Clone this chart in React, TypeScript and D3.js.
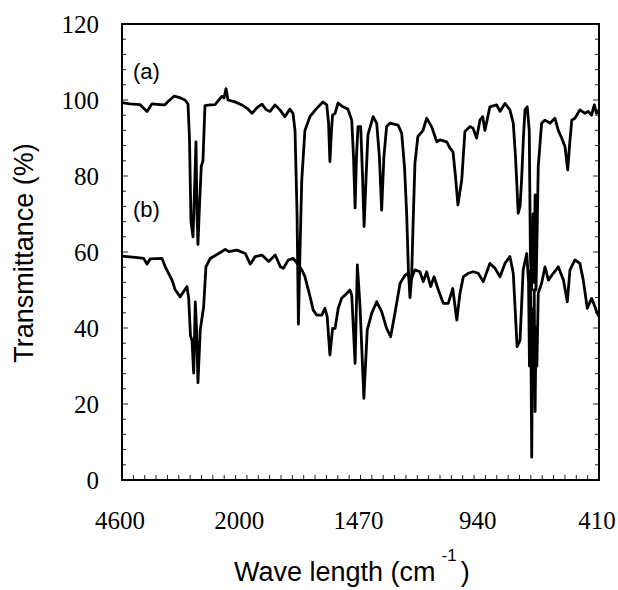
import React from 'react';
import * as d3 from 'd3';

// IR spectra (a) and (b), transmittance vs wave number

const waveA = [4600, 4430, 4210, 4055, 3946, 3772, 3663, 3597, 3466, 3336, 3227, 3161, 3129, 3096, 3052, 3009, 2987, 2965, 2944, 2911, 2872, 2835, 2791, 2681, 2572, 2419, 2376, 2332, 2289, 2136,
  1997, 1974, 1952, 1930, 1908, 1890, 1872, 1850, 1828, 1806, 1784, 1770, 1761, 1752, 1746, 1739, 1731, 1717, 1695, 1665, 1637, 1620, 1612, 1606, 1599, 1594, 1583, 1570, 1548, 1526,
  1509, 1501, 1494, 1488, 1481, 1469, 1461, 1454, 1445, 1437, 1414, 1398, 1386, 1376, 1366, 1354, 1339, 1303, 1287, 1274, 1265, 1257, 1250, 1243, 1235, 1228, 1215, 1192, 1176, 1154,
  1131, 1117, 1087, 1072, 1059, 1048, 1037, 1020, 1006, 983, 970, 954, 939, 927, 917, 895, 865, 850, 828, 806, 791, 781, 769, 761, 754, 746, 739, 729, 720, 715,
  710, 703, 699, 694, 690, 685, 680, 665, 650, 628, 606, 591, 576, 561, 549, 541, 531, 517, 495, 472, 458, 443, 431, 421, 410];
const transA = [99.3, 99, 98.8, 97, 99, 98.8, 98.7, 99.6, 101, 100.6, 100, 99, 90, 68, 64, 80, 89, 70, 62, 72, 82.5, 84, 98.5, 98.7, 98.8, 101, 100.5, 103, 100, 99.5,
  98.7, 97.8, 96.5, 98, 98.9, 97.5, 97, 98.7, 97.4, 95.6, 97.6, 96.5, 92, 70, 41, 60, 79, 92, 95.6, 97.8, 99.5, 98.7, 94, 83.8, 92, 96, 96.5, 99.2, 98.2, 97.6,
  94.7, 85, 71.6, 85, 93, 93, 80, 66.7, 80, 90.8, 95.6, 93.9, 85, 71, 85, 93, 93.9, 93.4, 91.3, 82, 70.3, 55, 48, 53, 70, 83.3, 90.4, 92, 95.2, 93,
  89, 89.5, 89, 87.3, 86.4, 80, 72.4, 79, 91.7, 93, 92.6, 90, 94.7, 95.6, 92, 98.2, 98.7, 97, 99.1, 97.4, 93.9, 85, 70.2, 72, 79, 90, 97.4, 98.2, 92, 60,
  50, 70, 52, 75, 50, 65, 82.5, 93.9, 94.7, 93.9, 95.2, 92, 90, 87.7, 81.6, 88, 94.7, 95.2, 97.4, 96.5, 97, 96, 98.7, 96.5, 97.4];

const waveB = [4600, 4310, 4127, 4055, 3983, 3728, 3656, 3510, 3438, 3329, 3255, 3183, 3146, 3107, 3074, 3037, 3002, 2976, 2944, 2894, 2820, 2770, 2676, 2493, 2349, 2275, 2094,
  1982, 1960, 1938, 1908, 1878, 1849, 1826, 1813, 1791, 1769, 1746, 1731, 1717, 1694, 1680, 1665, 1642, 1628, 1618, 1606, 1594, 1583, 1569, 1554, 1531, 1517, 1509, 1494, 1484,
  1472, 1455, 1440, 1420, 1398, 1376, 1354, 1336, 1317, 1294, 1272, 1258, 1250, 1228, 1206, 1191, 1176, 1158, 1143, 1124, 1102, 1080, 1060, 1042, 1028, 1013, 991, 969, 947, 924,
  895, 872, 850, 828, 806, 791, 774, 761, 747, 731, 723, 719, 715, 709, 705, 701, 698, 694, 690, 686, 680, 665, 650, 635, 613, 591, 568, 551, 539, 517, 495, 480, 462, 443, 428, 418, 410];
const transB = [58.9, 58.6, 58.3, 56.8, 58.2, 58.3, 56.1, 52.6, 50, 48.2, 49.6, 50.9, 47.8, 38, 36.8, 28.1, 46.9, 40, 25.6, 39.5, 45.6, 56.1, 58.3, 59.6, 60.7, 60.1, 60.5,
  59.6, 56.8, 58.8, 59.2, 57.5, 59.2, 56.1, 55.7, 57.9, 58.3, 56.6, 55.3, 53.5, 48.2, 44.7, 43.4, 43.4, 45.2, 43, 32.9, 39.9, 39.9, 45.2, 47.8, 49.1, 50, 48.7, 30.7, 56.6,
  45.6, 21.5, 39.5, 43.9, 46.9, 44.3, 39.9, 37.7, 43.9, 51.8, 53.9, 54.4, 52, 55.3, 54.8, 52.2, 54.8, 50.9, 53.5, 50, 46.5, 46.5, 50.4, 42.1, 49.1, 53.5, 54.4, 54.8, 54.4, 52.2,
  57, 55.7, 53.5, 57, 58.8, 54.4, 35.1, 36.8, 55.3, 59.6, 52, 30, 55, 6, 45, 25, 50, 18, 40, 30, 49.1, 51.8, 56.1, 52.6, 54.4, 56.1, 52.6, 46.9, 55.3, 57.9, 57, 52.6, 45.2, 47.8, 45.6, 43.9, 43];

const xTickValues = [4600, 2000, 1470, 940, 410];
const yTickValues = [0, 20, 40, 60, 80, 100, 120];

const W = 618, H = 590;
const left = 122, right = 599, top = 24, bottom = 480;

export default function App() {
  const x = d3.scaleLinear().domain([4600, 2000, 410]).range([left, left + (right - left) / 4, right]);
  const y = d3.scaleLinear().domain([0, 120]).range([bottom, top]);

  const line = d3.line<[number, number]>().x(d => x(d[0])).y(d => y(d[1]));
  const pathA = line(waveA.map((w, i) => [w, transA[i]]));
  const pathB = line(waveB.map((w, i) => [w, transB[i]]));

  const yMinor = d3.range(0, 121, 4);
  const xMinor = d3.range(0, 43).map(i => left + i * (right - left) / 42);

  const serif = "'Liberation Serif', 'DejaVu Serif', serif";
  const sans = "'Liberation Sans', Arial, sans-serif";

  return (
    <svg width={W} height={H} style={{ position: 'absolute', left: 0, top: 0, background: '#fff' }}>
      {/* ticks */}
      {yMinor.map(v => (
        <g key={'y' + v}>
          <line x1={left} x2={left + (v % 20 === 0 ? 6 : 4)} y1={y(v)} y2={y(v)} stroke="#222" strokeWidth={1} />
          <line x1={right} x2={right - (v % 20 === 0 ? 6 : 4)} y1={y(v)} y2={y(v)} stroke="#222" strokeWidth={1} />
        </g>
      ))}
      {xMinor.map((px, i) => (
        <line key={'x' + i} x1={px} x2={px} y1={bottom} y2={bottom - 5} stroke="#222" strokeWidth={1} />
      ))}
      {/* frame */}
      <rect x={left} y={top} width={right - left} height={bottom - top} fill="none" stroke="#000" strokeWidth={2} />

      {/* spectra */}
      <path d={pathA || ''} fill="none" stroke="#000" strokeWidth={2.8} strokeLinejoin="round" />
      <path d={pathB || ''} fill="none" stroke="#000" strokeWidth={2.8} strokeLinejoin="round" />

      {/* tick labels */}
      <g style={{ fontFamily: serif, fontSize: '25px' }}>
        {yTickValues.map(v => (
          <text key={'yl' + v} x={99} y={y(v)} dy="0.35em" textAnchor="end">{v}</text>
        ))}
        {xTickValues.map(v => (
          <text key={'xl' + v} x={x(v) - 2} y={529} textAnchor="middle">{v}</text>
        ))}
      </g>

      {/* series labels */}
      <text x={133} y={79} style={{ fontFamily: sans, fontSize: 22 }}>(a)</text>
      <text x={133} y={217} style={{ fontFamily: sans, fontSize: 22 }}>(b)</text>

      {/* axis titles */}
      <text transform="translate(33,253) rotate(-90)" textAnchor="middle" style={{ fontFamily: sans, fontSize: 27 }}>Transmittance (%)</text>
      <text x={234} y={581} style={{ fontFamily: sans, fontSize: 27 }}>
        Wave length (cm
        <tspan dx={6} dy={-20} style={{ fontSize: 17 }}>-1</tspan>
        <tspan dx={4} dy={20}>)</tspan>
      </text>
    </svg>
  );
}
